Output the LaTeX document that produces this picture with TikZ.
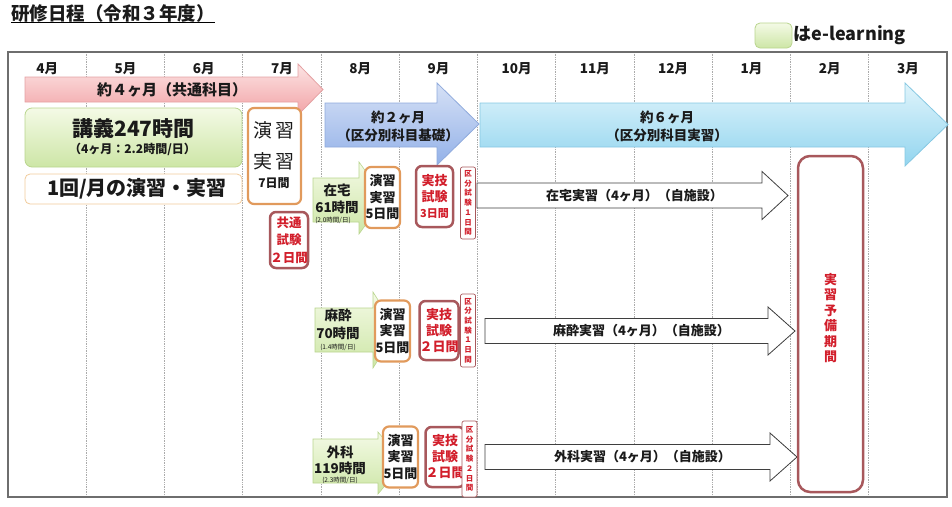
\documentclass[tikz,border=0pt]{standalone}
\usepackage{fontspec}
\setmainfont{Noto Sans CJK JP}
\usetikzlibrary{calc}
\definecolor{ink}{HTML}{1A1A1A}
\definecolor{gridgray}{HTML}{ABABAB}
\definecolor{framegray}{HTML}{6E6E6E}
\definecolor{pinkT}{HTML}{FCE4E4}
\definecolor{pinkD}{HTML}{F2A3A6}
\definecolor{pinkB}{HTML}{E4A1A3}
\definecolor{blueT}{HTML}{D6E1F6}
\definecolor{blueD}{HTML}{93B1E8}
\definecolor{blueB}{HTML}{8FAADC}
\definecolor{cyanT}{HTML}{E0F4FB}
\definecolor{cyanD}{HTML}{92D5EF}
\definecolor{cyanB}{HTML}{86C8E2}
\definecolor{greenT}{HTML}{F4FAE6}
\definecolor{greenD}{HTML}{CDE6A6}
\definecolor{greenB}{HTML}{B9D58E}
\definecolor{orangeB}{HTML}{E19A5C}
\definecolor{paleorange}{HTML}{F1CB9B}
\definecolor{examB}{HTML}{A8585C}
\definecolor{examR}{HTML}{D21E2B}
\definecolor{darkline}{HTML}{3F3F3F}
\tikzset{gridline/.style={densely dotted,gridgray,line width=.7pt},
month/.style={font=\bfseries\fontsize{13.5}{15}\selectfont,text=ink,inner sep=0pt},
elearn/.style={draw=greenB,top color=greenT,bottom color=greenD,line width=.8pt,rounded corners=7pt},
elearnarrow/.style={draw=greenB,top color=greenT,bottom color=greenD,line width=.6pt},
drill/.style={draw=orangeB,fill=white,line width=2.2pt,rounded corners=6pt},
exam/.style={draw=examB,fill=white,line width=2.5pt,rounded corners=6pt},
minor/.style={draw=examB,fill=white,line width=.7pt,rounded corners=2pt},
practice/.style={draw=darkline,fill=white,line width=.8pt},
lab/.style={font=\bfseries,align=center,text=ink,inner sep=0pt},
redlab/.style={align=center,text=examR,inner sep=0pt},
big/.style={font=\bfseries\fontsize{21}{23}\selectfont},
mid/.style={font=\bfseries\fontsize{13.5}{18}\selectfont},
tiny/.style={font=\fontsize{6.5}{8}\selectfont,align=center,text=ink,inner sep=0pt}}
\begin{document}
\begin{tikzpicture}[x=1pt,y=-1pt]
\useasboundingbox (0,0) rectangle (952,506);
\node[lab,anchor=west,font=\bfseries\fontsize{18.5}{20}\selectfont] (title) at (11,13) {研修日程（令和３年度）};
\draw[line width=1.1pt] ([yshift=-.3pt]title.south west) -- ([yshift=-.3pt]title.south east);
\node[elearn,minimum width=37pt,minimum height=25pt,rounded corners=5pt] (legbox) at (773.5,35.5) {};
\node[lab,anchor=west,font=\bfseries\fontsize{18}{20}\selectfont] (legtext) at ([xshift=1pt]legbox.east) {はe-learning};
\foreach \i in {1,...,11}
  \draw[gridline] ({8+78.25*\i},52) -- ({8+78.25*\i},497);
\draw[framegray,line width=1.4pt] (8,52) rectangle (947,497);
\foreach \m [count=\i] in {4,5,6,7,8,9,10,11,12,1,2,3}
  \node[month] (m\i) at ({8+78.25*\i-39.1},69) {\m 月};
\draw[draw=pinkB,top color=pinkT,bottom color=pinkD,line width=.8pt]
  (25,77) -- (298,77) -- (298,64) -- (323,89.5) -- (298,115) -- (298,102) -- (25,102) -- cycle;
\node[lab,font=\bfseries\fontsize{15}{16}\selectfont] (common) at (172,89.5) {約４ヶ月（共通科目）};
\draw[draw=blueB,top color=blueT,bottom color=blueD,line width=.8pt]
  (325,103) -- (437,103) -- (437,83) -- (479,124) -- (437,165) -- (437,147) -- (325,147) -- cycle;
\node[lab,mid] (basic) at (398,126) {約２ヶ月\\（区分別科目基礎）};
\draw[draw=cyanB,top color=cyanT,bottom color=cyanD,line width=.8pt]
  (480,103) -- (905,103) -- (905,83) -- (948,124.5) -- (905,166) -- (905,147) -- (480,147) -- cycle;
\node[lab,mid] (field) at (667,126) {約６ヶ月\\（区分別科目実習）};
\node[elearn,minimum width=217pt,minimum height=59pt] (lecture) at (133.5,137.5) {};
\node[lab,big] (lecturehrs) at (133.5,129) {講義247時間};
\node[lab,font=\bfseries\fontsize{12}{13}\selectfont] (lecturerate) at (132.5,149) {（4ヶ月：2.2時間/日）};
\node[draw=paleorange,fill=white,line width=.8pt,rounded corners=5pt,minimum width=217pt,minimum height=30pt] (monthly) at (133.5,189) {};
\node[lab,font=\bfseries\fontsize{20}{22}\selectfont] (monthlytext) at (137,189) {1回/月の演習・実習};
\node[drill,minimum width=53pt,minimum height=96pt] (drill7) at (274.5,156) {};
\node[lab,font=\fontsize{19}{31}\selectfont] (drill7top) at (274,146) {演\,習\\実\,習};
\node[lab,font=\bfseries\fontsize{12}{14}\selectfont] (drill7days) at (274,183) {7日間};
\node[exam,minimum width=38pt,minimum height=56pt,redlab,font=\bfseries\fontsize{12.5}{17.5}\selectfont] (cexam) at (289,240) {共通\\試験\\２日間};
\foreach \r/\lx/\y/\hx/\tx/\name in {home/477/195.5/762/788/在宅,anes/485/331/768/795/麻酔,surg/485/457/770/797/外科}{
  \draw[practice] (\lx,\y-12.5) -- (\hx,\y-12.5) -- (\hx,\y-24) -- (\tx,\y) -- (\hx,\y+24) -- (\hx,\y+12.5) -- (\lx,\y+12.5) -- cycle;
  \node[lab,font=\bfseries\fontsize{13}{15}\selectfont] (prac\r) at ({(\lx+\hx)/2+15},\y) {\name 実習（4ヶ月）（自施設）};
}
\draw[elearnarrow] (313,178) -- (359,178) -- (359,162) -- (385,198) -- (359,234) -- (359,222) -- (313,222) -- cycle;
\node[lab,font=\bfseries\fontsize{13.5}{17}\selectfont] (home) at (337,198.5) {在宅\\61時間};
\node[tiny] (homerate) at (333,220) {(2.0時間/日)};
\draw[elearnarrow] (315,308) -- (373,308) -- (373,292) -- (397,330) -- (373,368) -- (373,352) -- (315,352) -- cycle;
\node[lab,font=\bfseries\fontsize{13.5}{18}\selectfont] (anes) at (338,324) {麻酔\\70時間};
\node[tiny] (anesrate) at (338,347) {(1.4時間/日)};
\draw[elearnarrow] (313,439) -- (378,439) -- (378,432) -- (404,463) -- (378,494) -- (378,483) -- (313,483) -- cycle;
\node[lab,font=\bfseries\fontsize{13.5}{16}\selectfont] (surg) at (340,460) {外科\\119時間};
\node[tiny] (surgrate) at (340,480) {(2.3時間/日)};
\foreach \r/\x/\y in {home/382.5/197.5,anes/392.5/331,surg/400.5/457}
  \node[drill,minimum width=35pt,minimum height=61pt,lab,font=\bfseries\fontsize{13}{16.5}\selectfont] (drill\r) at (\x,\y) {演習\\実習\\5日間};
\node[exam,minimum width=37pt,minimum height=61pt,redlab,font=\bfseries\fontsize{13}{16}\selectfont] (examhome) at (434.5,196.5) {実技\\試験\\{\fontsize{11}{16}\selectfont 3日間}};
\node[exam,minimum width=36pt,minimum height=59pt,redlab,font=\bfseries\fontsize{13}{16}\selectfont] (examanes) at (439,330.5) {実技\\試験\\２日間};
\node[exam,minimum width=34pt,minimum height=60pt,redlab,font=\bfseries\fontsize{13}{16}\selectfont] (examsurg) at (445,457) {実技\\試験\\２日間};
\foreach \r/\x/\y/\h/\d in {home/468/203/72/１,anes/468/330.5/73/１,surg/469.5/459/76/２}
  \node[minor,minimum width=15pt,minimum height=\h pt,redlab,font=\bfseries\fontsize{7.5}{9.7}\selectfont] (minor\r) at (\x,\y) {区\\分\\試\\験\\\d\\日\\間};
\node[exam,minimum width=65pt,minimum height=336pt,rounded corners=12pt] (reserve) at (830.5,324) {};
\node[redlab,font=\bfseries\fontsize{13}{15.5}\selectfont] (reservetext) at (830.5,318) {実\\習\\予\\備\\期\\間};
\end{tikzpicture}
\end{document}
